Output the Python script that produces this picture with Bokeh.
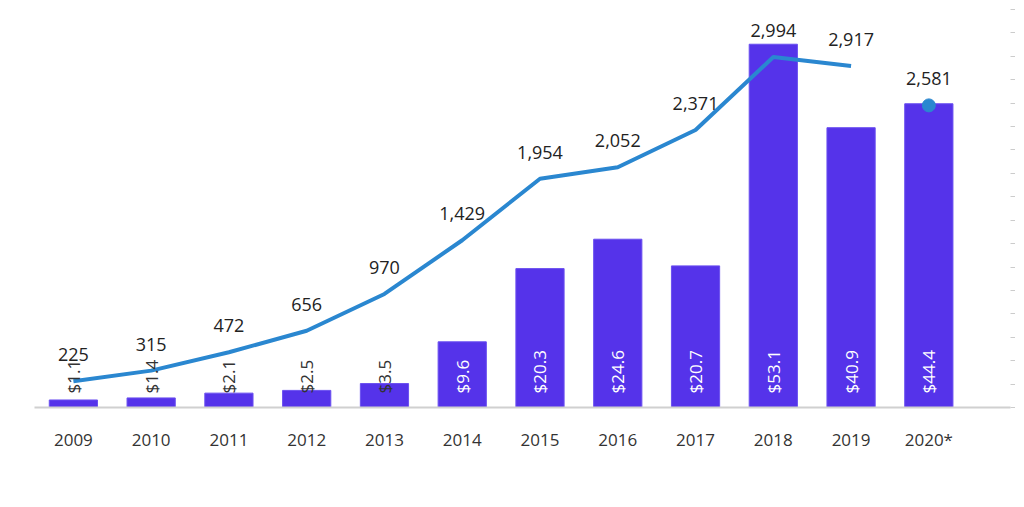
from bokeh.plotting import figure
from bokeh.models import ColumnDataSource, Range1d, LinearAxis, FixedTicker, Legend, LegendItem
from bokeh.core.properties import value
from bokeh.embed import file_html
from bokeh.resources import INLINE

years = ["2009","2010","2011","2012","2013","2014","2015","2016","2017","2018","2019","2020*"]
deal_value = [1.1,1.4,2.1,2.5,3.5,9.6,20.3,24.6,20.7,53.1,40.9,44.4]
deal_count = [225,315,472,656,970,1429,1954,2052,2371,2994,2917,2581]

xs = list(range(len(years)))
FONT = "Open Sans"
src = ColumnDataSource(dict(
    x=xs, v=deal_value, c=deal_count,
    vl=["$%.1f" % v for v in deal_value],
    cl=["{:,}".format(c) for c in deal_count],
    vc=["white" if v >= 9 else "#333333" for v in deal_value],
))
line_src = ColumnDataSource(dict(x=xs[:-1], c=deal_count[:-1]))
pt_src = ColumnDataSource(dict(x=xs[-1:], c=deal_count[-1:]))

p = figure(frame_width=976, frame_height=405, output_backend="svg", toolbar_location=None,
           x_range=Range1d(-0.5, 12.05), y_range=Range1d(0, 59.2),
           min_border_top=2, min_border_left=34, min_border_right=0, min_border_bottom=0)
p.extra_y_ranges = {"cnt": Range1d(0, 3460)}
p.outline_line_color = None
p.grid.grid_line_color = None
p.yaxis.visible = False

ra = LinearAxis(y_range_name="cnt", ticker=FixedTicker(ticks=list(range(0, 3500, 200))))
ra.axis_line_color = None
ra.major_tick_line_color = "#cccccc"
ra.major_tick_in = 0
ra.major_tick_out = 5
ra.minor_tick_line_color = None
ra.major_label_text_font_size = "1px"
ra.major_label_text_color = None
p.add_layout(ra, "right")

p.xaxis.ticker = FixedTicker(ticks=xs)
p.xaxis.major_label_overrides = {i: y for i, y in enumerate(years)}
p.xaxis.axis_line_color = "#d0d0d0"
p.xaxis.axis_line_width = 2
p.xaxis.major_tick_line_color = None
p.xaxis.minor_tick_line_color = None
p.xaxis.major_label_text_font = FONT
p.xaxis.major_label_text_font_size = "17px"
p.xaxis.major_label_text_color = "#333333"
p.xaxis.major_label_standoff = 14

bars = p.vbar(x="x", top="v", width=0.62, source=src, fill_color="#5533EA", line_color="#6A4FF0")
ln = p.line(x="x", y="c", source=line_src, y_range_name="cnt", line_color="#2A87D0", line_width=4)
p.scatter(x="x", y="c", source=pt_src, y_range_name="cnt", size=13, color="#2A87D0")

p.text(x="x", y=0, text="vl", source=src, angle=1.5708, text_color="vc",
       text_font=value(FONT), text_font_size="17px", text_align="left",
       text_baseline="middle", y_offset=-14)
p.text(x="x", y="c", text="cl", source=src, y_range_name="cnt", text_color="#222222",
       text_font=value(FONT), text_font_size="18px", text_align="center",
       text_baseline="bottom", y_offset=-20)

legend = Legend(items=[LegendItem(label="Deal value ($B)", renderers=[bars]),
                       LegendItem(label="Deal count", renderers=[ln])],
                orientation="horizontal", location="center", border_line_color=None,
                label_text_font=FONT, label_text_font_size="17px", label_text_color="#333333",
                glyph_width=45, margin=6, padding=2, spacing=20)
p.add_layout(legend, "below")

open("out.html", "w").write(file_html(p, INLINE))
